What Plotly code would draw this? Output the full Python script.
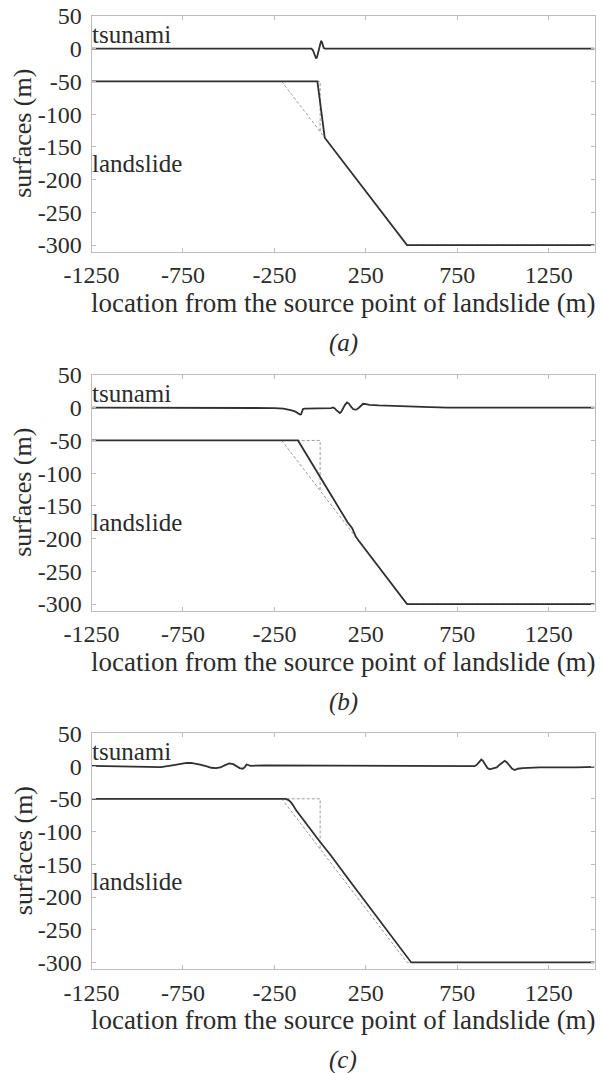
import plotly.graph_objects as go

# ---------------- data ----------------
x_ticks = [-1250, -750, -250, 250, 750, 1250]
x_tick_text = ["-1250", "-750", "-250", "250", "750", "1250"]
y_ticks = [50, 0, -50, -100, -150, -200, -250, -300]
y_tick_text = ["50", "0", "-50", "-100", "-150", "-200", "-250", "-300"]

# initial sea bed (dashed)
bed_x = [-1250, -210, 475, 1500]
bed_y = [-50, -50, -300, -300]
# initial landslide block outline (dashed)
block_x = [-210, 0, 0]
block_y = [-50, -50, -127]

# panel (a)
ts_a_x = [-1250, -48, -40, -33, -27, -22, -17, -12, -6, 0, 5, 10, 15, 20, 27, 35, 1500]
ts_a_y = [0, 0, -2, -7, -12, -15, -13, -7, 1, 8, 12, 10, 5, 1, 0, 0, 0]
ls_a_x = [-1250, -15, 25, 475, 1500]
ls_a_y = [-50, -50, -136, -300, -300]

# panel (b)
ts_b_x = [-1250, -300, -250, -200, -170, -150, -135, -125, -115, -110, -104, -98, -94, -85,
          0, 50, 60, 70, 80, 90, 100, 108, 116, 125, 135, 147, 158, 168, 180, 190, 200,
          212, 224, 235, 250, 270, 320, 400, 500, 600, 700, 1500]
ts_b_y = [0, 0, -0.5, -1.5, -3, -4.5, -6, -7.5, -9.5, -10.5, -10, -5, -2, -1.5,
          -1.5, -1.5, -0.5, 0.5, -1, -4, -7, -8, -6, -1, 4, 8, 6, 2, -2, -3, -2.5,
          0, 4, 6, 5.5, 4.5, 3.5, 2.5, 1.5, 0.8, 0.3, 0]
ls_b_x = [-1250, -121, 20, 120, 150, 175, 195, 210, 475, 1500]
ls_b_y = [-50, -50, -115, -162, -175, -184, -197, -203, -300, -300]

# panel (c)
ts_c_x = [-1250, -1150, -1050, -950, -870, -800, -760, -730, -706, -680, -650, -620,
          -595, -569, -545, -520, -496, -475, -455, -440, -423, -412, -402, -392, -380,
          -300, 0, 400, 800, 845, 860, 872, 881, 890, 902, 915, 927, 945, 965, 985,
          1000, 1009, 1020, 1035, 1050, 1064, 1080, 1107, 1200, 1400, 1500]
ts_c_y = [0.5, 0, -1, -2, -1.5, 1.5, 3.5, 4.8, 5, 4, 2, -0.5,
          -2.5, -3, -2, 1.5, 4, 3, 0, -3, -4, -1.5, 2.5, 1.5, 0.5,
          1, 0.5, 0, 0, 0, 3, 8, 10, 8, 2, -3, -5, -4, -2, 3,
          7, 8, 6, 1, -4, -6, -4, -3, -2, -2, -1]
ls_c_x = [-1250, -190, -175, -160, -145, -130, 0, 60, 150, 300, 430, 498, 1500]
ls_c_y = [-50, -50, -51.5, -55, -61, -68, -116, -137, -171, -226, -274, -300, -300]

panels = [
    ("(a)", ts_a_x, ts_a_y, ls_a_x, ls_a_y),
    ("(b)", ts_b_x, ts_b_y, ls_b_x, ls_b_y),
    ("(c)", ts_c_x, ts_c_y, ls_c_x, ls_c_y),
]

# ---------------- layout geometry (pixels) ----------------
W, H = 603, 1073
plot_top_px = [16, 375, 733.4]
plot_h_px = 235.6
x_left_px, x_right_px = 91.5, 594.5

FONT = "Liberation Serif"
TXT = "#2b2b2b"
AX = "#bdbdbd"
SOLID = "#303030"
DASH = "#9a9a9a"

fig = go.Figure()
annotations = []
layout_axes = {}

for i, (lab, tx, ty, lx, ly) in enumerate(panels):
    n = "" if i == 0 else str(i + 1)
    xa, ya = "x" + n, "y" + n
    top = plot_top_px[i]
    bot = top + plot_h_px
    ydom = [1 - bot / H, 1 - top / H]
    xdom = [x_left_px / W, x_right_px / W]

    fig.add_trace(go.Scatter(x=bed_x, y=bed_y, mode="lines", xaxis=xa, yaxis=ya,
                             line=dict(color=DASH, width=1, dash="3px,2px")))
    fig.add_trace(go.Scatter(x=block_x, y=block_y, mode="lines", xaxis=xa, yaxis=ya,
                             line=dict(color=DASH, width=1, dash="3px,2px")))
    fig.add_trace(go.Scatter(x=lx, y=ly, mode="lines", xaxis=xa, yaxis=ya,
                             line=dict(color=SOLID, width=1.8)))
    fig.add_trace(go.Scatter(x=tx, y=ty, mode="lines", xaxis=xa, yaxis=ya,
                             line=dict(color=SOLID, width=1.8)))

    common = dict(showline=True, linecolor=AX, linewidth=1, mirror="ticks",
                  ticks="inside", ticklen=4, tickcolor=AX, tickwidth=1,
                  showgrid=False, zeroline=False, automargin=False,
                  tickfont=dict(family=FONT, size=24, color=TXT))
    layout_axes["xaxis" + n] = dict(domain=xdom, range=[-1250, 1500], anchor=ya,
                                    tickmode="array", tickvals=x_ticks, ticktext=x_tick_text,
                                    ticklabelstandoff=2, **common)
    layout_axes["yaxis" + n] = dict(domain=ydom, range=[-310, 50], anchor=xa,
                                    tickmode="array", tickvals=y_ticks, ticktext=y_tick_text,
                                    ticklabelstandoff=4, **common)

    annotations.append(dict(x=-1250, y=22, xref=xa, yref=ya, text="tsunami",
                            showarrow=False, xanchor="left", yanchor="middle", xshift=-2,
                            font=dict(family=FONT, size=25, color=TXT)))
    annotations.append(dict(x=-1250, y=-176, xref=xa, yref=ya, text="landslide",
                            showarrow=False, xanchor="left", yanchor="middle", xshift=-2,
                            font=dict(family=FONT, size=25, color=TXT)))
    annotations.append(dict(x=(x_left_px + x_right_px) / 2 / W, y=1 - (bot + 51) / H,
                            xref="paper", yref="paper", text="location from the source point of landslide (m)",
                            showarrow=False, xanchor="center", yanchor="middle",
                            font=dict(family=FONT, size=27, color=TXT)))
    annotations.append(dict(x=23 / W, y=1 - (top + plot_h_px / 2) / H,
                            xref="paper", yref="paper", text="surfaces (m)", textangle=-90,
                            showarrow=False, xanchor="center", yanchor="middle",
                            font=dict(family=FONT, size=26, color=TXT)))
    annotations.append(dict(x=(x_left_px + x_right_px) / 2 / W, y=1 - (bot + 91) / H,
                            xref="paper", yref="paper", text="<i>" + lab + "</i>",
                            showarrow=False, xanchor="center", yanchor="middle",
                            font=dict(family=FONT, size=25, color=TXT)))

fig.update_layout(width=W, height=H,
                  margin=dict(l=0, r=0, t=0, b=0, pad=0, autoexpand=False),
                  paper_bgcolor="white", plot_bgcolor="white", showlegend=False,
                  annotations=annotations, **layout_axes)

fig.write_html("out.html")
